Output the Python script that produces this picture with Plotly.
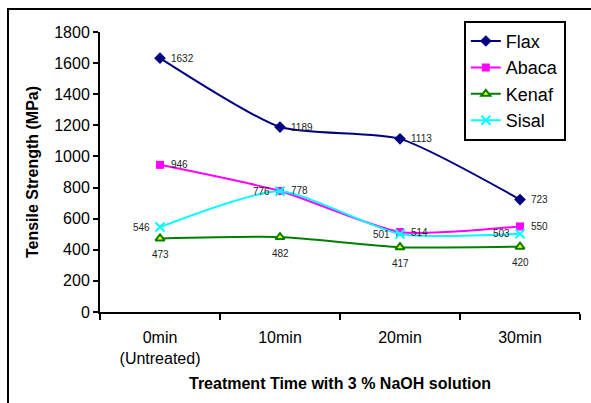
import plotly.graph_objects as go

# Treatment times (x categories)
categories = ["0min<br>(Untreated)", "10min", "20min", "30min"]

# Tensile strength (MPa) for each fibre
flax = [1632, 1189, 1113, 723]
abaca = [946, 778, 514, 550]
kenaf = [473, 482, 417, 420]
sisal = [546, 776, 501, 503]

y_ticks = list(range(0, 1801, 200))

FONT = "Liberation Sans, Arial, sans-serif"

fig = go.Figure()

# name, values, line colour, marker, label placement (xanchor, xshift, yshift)
series = [
    ("Flax", flax, "#000080",
     dict(symbol="diamond", size=9, color="#000080"), ("left", 9, 0)),
    ("Abaca", abaca, "#FF00FF",
     dict(symbol="square", size=8, color="#FF00FF"), ("left", 9, 0)),
    ("Kenaf", kenaf, "#008000",
     dict(symbol="triangle-up", size=8, color="#FFFF00",
          line=dict(color="#008000", width=2)), ("center", 0, -16)),
    ("Sisal", sisal, "#00FFFF",
     dict(symbol="x-thin", size=9, line=dict(color="#00FFFF", width=2)),
     ("right", -8, 0)),
]

annotations = []
for name, vals, color, marker, (xa, xs, ys) in series:
    fig.add_trace(go.Scatter(
        x=categories, y=vals, name=name,
        mode="lines+markers",
        line=dict(width=2, color=color, shape="spline", smoothing=0.6),
        marker=marker,
        cliponaxis=False,
    ))
    for c, v in zip(categories, vals):
        annotations.append(dict(
            x=c, y=v, xref="x", yref="y", text=str(v), showarrow=False,
            xanchor=xa, yanchor="middle", xshift=xs, yshift=ys,
            font=dict(family=FONT, size=10, color="#222222"),
        ))

fig.update_layout(
    width=591, height=403,
    margin=dict(l=100, r=11, t=32, b=91),
    paper_bgcolor="white", plot_bgcolor="white",
    font=dict(family=FONT, color="black"),
    showlegend=True,
    annotations=annotations,
    legend=dict(
        x=0.758, y=1.04, xanchor="left", yanchor="top",
        bgcolor="white", bordercolor="black", borderwidth=2,
        font=dict(family=FONT, size=18, color="black"),
        itemwidth=30, tracegroupgap=0,
    ),
    xaxis=dict(
        type="category", range=[-0.5, 3.5],
        showline=True, linecolor="black", linewidth=2,
        ticks="outside", tickson="boundaries", ticklen=6,
        tickwidth=2, tickcolor="black", ticklabelstandoff=10,
        tickfont=dict(family=FONT, size=16, color="black"),
        showgrid=False, zeroline=False,
        title=dict(text="<b>Treatment Time with 3 % NaOH solution</b>",
                   font=dict(family=FONT, size=16, color="black"),
                   standoff=12),
    ),
    yaxis=dict(
        range=[0, 1800], tickvals=y_ticks,
        showline=True, linecolor="black", linewidth=2,
        ticks="outside", ticklen=5, tickwidth=2, tickcolor="black",
        tickfont=dict(family=FONT, size=16, color="black"),
        showgrid=False, zeroline=False,
        title=dict(text="<b>Tensile Strength (MPa)</b>",
                   font=dict(family=FONT, size=16, color="black"),
                   standoff=12),
    ),
    shapes=[dict(
        type="rect", xref="paper", yref="paper",
        x0=-0.1917, x1=1.06, y0=-0.36, y1=1.082,
        line=dict(color="black", width=2), fillcolor="rgba(0,0,0,0)",
        layer="below",
    )],
)

fig.write_html("out.html")
